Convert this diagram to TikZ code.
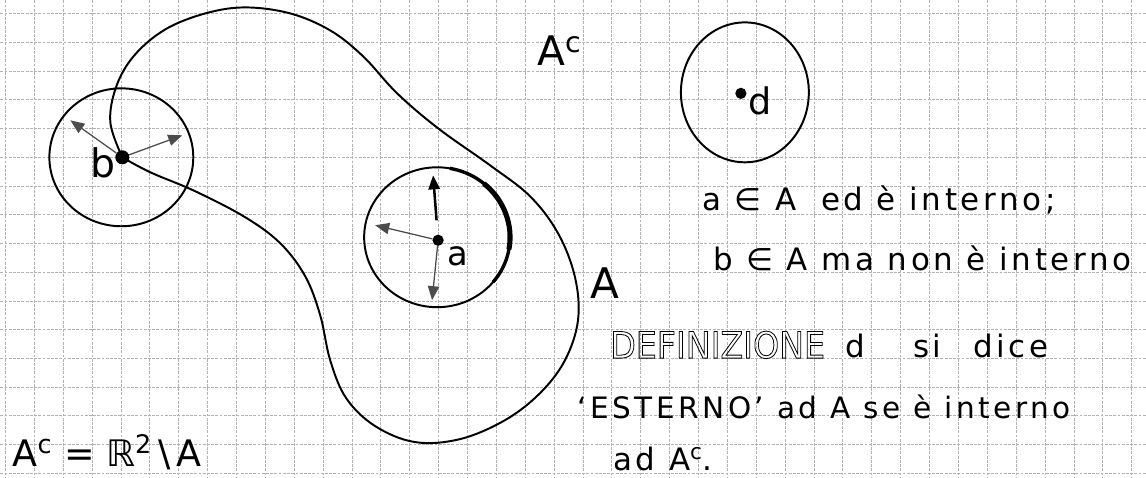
\documentclass[tikz,border=0pt]{standalone}
\usepackage{fontspec}
\setmainfont{DejaVu Sans}
\newfontfamily\hand[LetterSpace=12]{DejaVu Sans}
\newcommand{\hollow}[1]{\special{pdf:literal direct 1 Tr 0.6 w}#1\special{pdf:literal direct 0 Tr}}
\usetikzlibrary{arrows.meta}
\tikzset{
  gridline/.style={gray!60, line width=0.6pt, dash pattern=on 2pt off 1pt},
  pen/.style={black, line width=1.4pt, line join=round},
  vec/.style={black!70, line width=0.9pt, -{Triangle[length=10pt, width=8pt]}},
  dot/.style={circle, fill=black, inner sep=0pt, minimum size=#1},
  dot/.default=8pt,
  note/.style={anchor=base west, inner sep=0pt, font=\hand\fontsize{#1}{#1}\selectfont},
  note/.default=22,
  letter/.style={inner sep=0pt, font=\fontsize{#1}{#1}\selectfont},
}

\begin{document}
\begin{tikzpicture}[x=0.025cm, y=-0.025cm]

% Squared paper
\fill[white] (0,0) rectangle (1146,477);
\foreach \i in {0,...,39} \draw[gridline] ({5+28.9*\i},0) -- ({5+28.9*\i},477);
\foreach \j in {0,...,16} \draw[gridline] (0,{13.3+28.75*\j}) -- (1146,{13.3+28.75*\j});
\useasboundingbox (0,0) rectangle (1146,477);

% The set A
\draw[pen] plot[smooth, tension=0.6] coordinates {
  (122,157) (110,122) (116,86) (134,55) (165,29) (205,13) (245,7) (290,13)
  (330,30) (363,56) (397,93) (438,128) (490,165) (530,196) (558,233)
  (575,277) (578,320) (565,360) (540,393) (505,420) (460,439) (415,442)
  (375,426) (346,398) (330,360) (320,315) (305,276) (280,243) (245,217)
  (195,191) (150,172) (122,157)};

% Neighbourhoods of b, a and d
\draw[pen] (121,157) ellipse [x radius=72, y radius=69];
\draw[pen] (437,237) ellipse [x radius=73, y radius=70];
\draw[black, line width=2.4pt] (437,237) ++(-80:73 and 70) arc[start angle=-80, end angle=40, x radius=73, y radius=70];
\draw[black, line width=3.6pt] (437,237) ++(-50:73 and 70) arc[start angle=-50, end angle=10, x radius=73, y radius=70];
\draw[pen] (745,92) ellipse [x radius=64, y radius=70];

% Points
\node[dot=10pt] (b) at (122,157) {};
\node[dot=8pt] (a) at (438,240) {};
\node[dot=8pt] (d) at (741,93) {};

% Radii
\coordinate (b1) at (70,120);
\coordinate (b2) at (182,135);
\coordinate (a1) at (433,175);
\coordinate (a2) at (375,225);
\coordinate (a3) at (432,300);
\draw[vec] (b) -- (b1);
\draw[vec] (b) -- (b2);
\draw[vec, black, line width=1.8pt, shorten <=10pt] (a) -- (a1);
\draw[vec] (a) -- (a2);
\draw[vec] (a) -- (a3);

% Labels of the points and of the sets
\node[letter=28] (lb) at (103,163) {b};
\node[letter=24] (la) at (458,256) {a};
\node[letter=26] (ld) at (760,101) {d};
\node[letter=29] (lAc) at (560,50) {A\textsuperscript{c}};
\node[letter=30] (lA) at (605,283) {A};

% Notes
\node[note] (n1) at (702,210) {a ∈ A\hspace{0.8em}ed è interno;};
\node[note] (n2) at (713,270) {b ∈ A ma non è interno};
\node[anchor=base west, inner sep=0pt, font=\fontsize{26}{26}\selectfont] (n3) at (610,358) {\scalebox{0.91}[1]{\hollow{DEFINIZIONE}}};
\node[note] (n3d) at (845,357) {d};
\node[note] (n3s) at (913,357) {si};
\node[note] (n3c) at (973,357) {dice};
\node[note=21] (n4) at (577,418) {‘ESTERNO’ ad A se è interno};
\node[note] (n5) at (613,470) {ad A\textsuperscript{c}.};
\node[anchor=base west, inner sep=0pt, font=\fontsize{26}{26}\selectfont] (fAc) at (12,466) {A\textsuperscript{c} = ℝ\textsuperscript{2}\,\textbackslash\,A};

\end{tikzpicture}
\end{document}
